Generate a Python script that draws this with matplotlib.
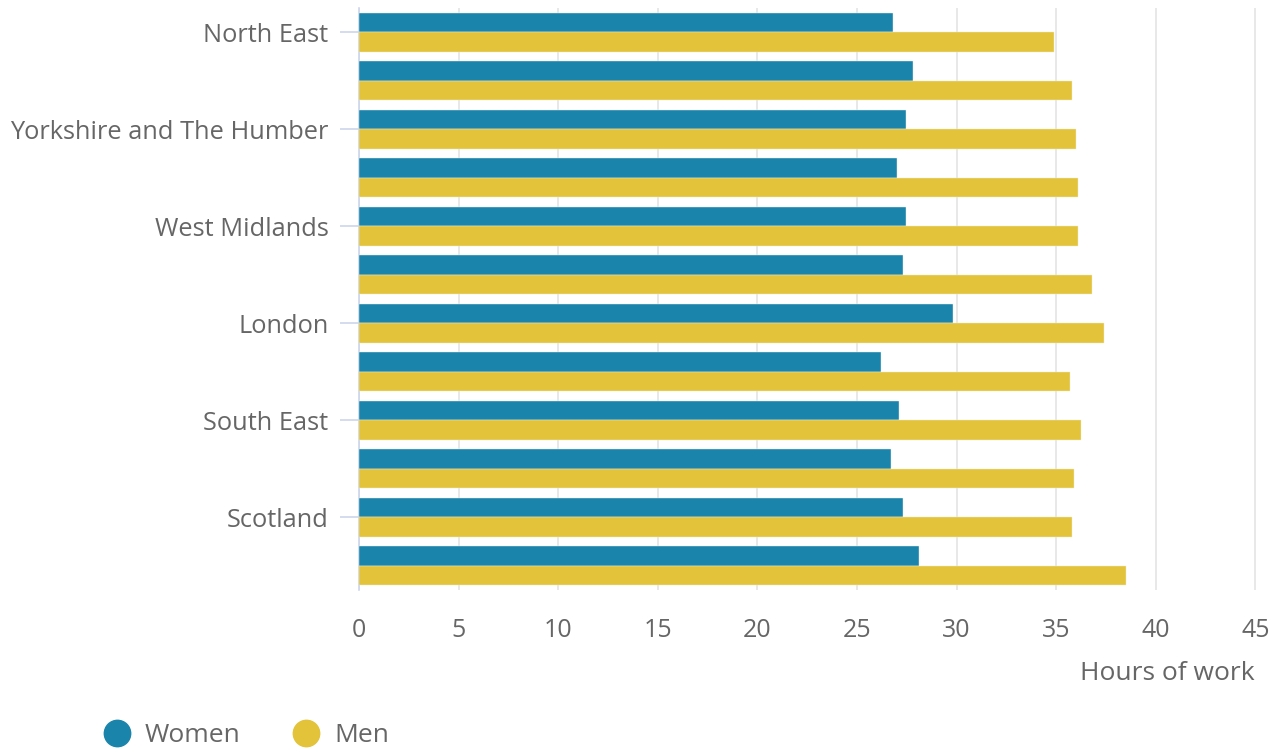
import matplotlib
matplotlib.use("Agg")
import matplotlib.pyplot as plt
from matplotlib.lines import Line2D
import numpy as np

regions = ["North East", "North West", "Yorkshire and The Humber", "East Midlands",
           "West Midlands", "East of England", "London", "Wales",
           "South East", "South West", "Scotland", "Northern Ireland"]
women = [26.8, 27.8, 27.45, 27.0, 27.45, 27.3, 29.8, 26.2, 27.1, 26.7, 27.3, 28.1]
men = [34.9, 35.8, 36.0, 36.1, 36.1, 36.8, 37.4, 35.7, 36.25, 35.9, 35.8, 38.5]
x_ticks = [0, 5, 10, 15, 20, 25, 30, 35, 40, 45]

C_WOMEN = "#1b84ab"
C_MEN = "#e2c33a"
TXT = "#666666"

plt.rcParams['font.family'] = ['Open Sans', 'DejaVu Sans']

fig = plt.figure(figsize=(12.76, 7.49), dpi=100)
W, H = 1276, 749
left, right, top, bottom = 359, 1264, 8, 590
ax = fig.add_axes([left / W, 1 - bottom / H, (right - left) / W, (bottom - top) / H])

y = np.arange(len(regions))
bh = 0.4
ax.barh(y - bh / 2, women, height=bh, color=C_WOMEN, edgecolor="#e8f0f4", linewidth=0.3, zorder=3)
ax.barh(y + bh / 2, men, height=bh, color=C_MEN, edgecolor="#f4ecc8", linewidth=0.3, zorder=3)

ax.set_xlim(0, (right - left) / 19.92)
ax.set_ylim(len(regions) - 0.5, -0.5)

ax.set_xticks(x_ticks)
ax.set_xticklabels([str(t) for t in x_ticks])
ax.grid(axis="x", color="#e6e6e6", linewidth=1.3, zorder=0)
ax.set_axisbelow(True)

ax.set_yticks(y[::2])
ax.set_yticklabels(regions[::2])

for s in ["top", "right", "bottom"]:
    ax.spines[s].set_visible(False)
ax.spines["left"].set_color("#ccd6eb")
ax.spines["left"].set_linewidth(1.2)

ax.tick_params(axis="y", length=14, width=1.2, color="#ccd6eb", pad=8,
               labelsize=18.3, labelcolor=TXT)
ax.tick_params(axis="x", length=0, pad=20, labelsize=18, labelcolor=TXT)

fig.text(1255 / W, 1 - 674 / H, "Hours of work", ha="right", va="center",
         fontsize=19, color=TXT)

handles = [Line2D([], [], marker="o", linestyle="none", markersize=19, color=C_WOMEN),
           Line2D([], [], marker="o", linestyle="none", markersize=19, color=C_MEN)]
fig.legend(handles, ["Women", "Men"], loc="center left",
           bbox_to_anchor=(80 / W, 1 - 736 / H), ncol=2, frameon=False,
           fontsize=19, labelcolor=TXT, handletextpad=0.55, columnspacing=2.0,
           handlelength=1.0)

fig.savefig("out.png", dpi=100)
